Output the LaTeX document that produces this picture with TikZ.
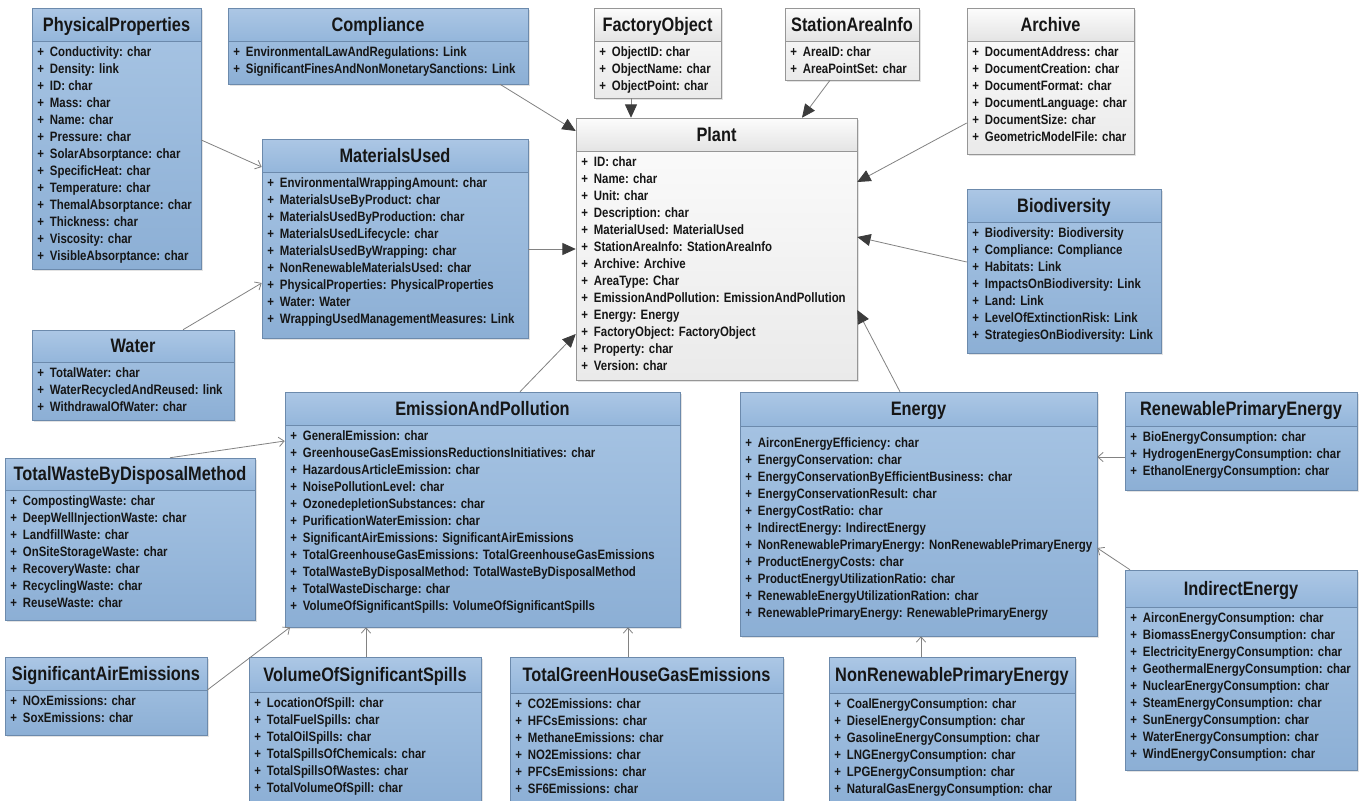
\documentclass[tikz,border=0pt]{standalone}
\usepackage{fontspec}
\setmainfont{Liberation Sans}[FakeStretch=0.84]
\usetikzlibrary{arrows.meta,fit,shadows}

% palette
\definecolor{bluebodytop}{RGB}{168,197,228}
\definecolor{bluebodybot}{RGB}{140,175,213}
\definecolor{blueheadtop}{RGB}{172,199,229}
\definecolor{blueheadbot}{RGB}{148,182,219}
\definecolor{blueline}{RGB}{108,138,172}
\definecolor{whitebodytop}{RGB}{252,252,252}
\definecolor{whitebodybot}{RGB}{234,234,234}
\definecolor{whiteheadtop}{RGB}{252,252,252}
\definecolor{whiteheadbot}{RGB}{228,228,228}
\definecolor{whiteline}{RGB}{150,150,150}
\definecolor{wirecol}{RGB}{130,130,130}
\definecolor{tipcol}{RGB}{60,60,60}
\definecolor{inkcol}{RGB}{22,22,22}

\newcommand{\attr}[1]{+\hspace{4.5pt}#1}
\newcommand{\itemlead}{11.25pt}

% \umlbox[kind]{name}{x1}{y1}{x2}{y2}{header bottom}{title}{attributes}
\newcommand{\umlbox}[9][blue]{%
  \fill[#1body] (#3,#4) rectangle (#5,#6);
  \shade[#1head] (#3,#4) rectangle (#5,#7);
  \draw[#1frame] (#3,#7) -- (#5,#7);
  \draw[#1frame] (#3,#4) rectangle (#5,#6);
  \node[fit={(#3,#4)(#5,#6)}, inner sep=0pt] (#2) {};
  \node[titletext, anchor=base] (#2-title) at ({(#3+#5)/2},{(#4+#7)/2+6.8}) {#8};
  \node[itemtext, anchor=north west] (#2-attrs) at (#3+5,#7) {\rule{0pt}{\itemlead}#9};
}

\tikzset{
  bluebody/.style={top color=bluebodytop, bottom color=bluebodybot,
    drop shadow={shadow xshift=1.5pt, shadow yshift=-1.5pt, opacity=0.22}},
  bluehead/.style={top color=blueheadtop, bottom color=blueheadbot},
  blueframe/.style={draw=blueline, line width=0.6pt},
  whitebody/.style={top color=whitebodytop, bottom color=whitebodybot,
    drop shadow={shadow xshift=1.5pt, shadow yshift=-1.5pt, opacity=0.22}},
  whitehead/.style={top color=whiteheadtop, bottom color=whiteheadbot},
  whiteframe/.style={draw=whiteline, line width=0.6pt},
  titletext/.style={font=\fontsize{14.6}{16}\selectfont\bfseries, text=inkcol, inner sep=0pt},
  itemtext/.style={font=\fontsize{10.2}{12.75}\selectfont\bfseries, text=inkcol,
    align=left, inner sep=0pt},
  openlink/.style={draw=wirecol, line width=0.6pt,
    -{Straight Barb[length=4pt,width=7pt]}},
  filledlink/.style={draw=wirecol, line width=0.6pt,
    -{Triangle[length=10pt,width=9pt,color=tipcol]}},
}

\begin{document}
\begin{tikzpicture}[x=0.75pt,y=-0.75pt]
\useasboundingbox (0,0) rectangle (1364,800);
\clip (0,0) rectangle (1364,800);
\fill[white] (0,0) rectangle (1364,800);

% ---------- classes ----------
\umlbox{phys}{32}{8}{201}{269}{41}{PhysicalProperties}{%
\attr{Conductivity: char}\\ \attr{Density: link}\\ \attr{ID: char}\\ \attr{Mass: char}\\
\attr{Name: char}\\ \attr{Pressure: char}\\ \attr{SolarAbsorptance: char}\\
\attr{SpecificHeat: char}\\ \attr{Temperature: char}\\ \attr{ThemalAbsorptance: char}\\
\attr{Thickness: char}\\ \attr{Viscosity: char}\\ \attr{VisibleAbsorptance: char}}

\umlbox{comp}{228}{8}{528}{84}{41}{Compliance}{%
\attr{EnvironmentalLawAndRegulations: Link}\\
\attr{SignificantFinesAndNonMonetarySanctions: Link}}

\umlbox[white]{factory}{594}{8}{721}{98}{41}{FactoryObject}{%
\attr{ObjectID: char}\\ \attr{ObjectName: char}\\ \attr{ObjectPoint: char}}

\umlbox[white]{station}{785}{8}{919}{80}{41}{StationAreaInfo}{%
\attr{AreaID: char}\\ \attr{AreaPointSet: char}}

\umlbox[white]{archive}{967}{8}{1134}{154}{41}{Archive}{%
\attr{DocumentAddress: char}\\ \attr{DocumentCreation: char}\\ \attr{DocumentFormat: char}\\
\attr{DocumentLanguage: char}\\ \attr{DocumentSize: char}\\ \attr{GeometricModelFile: char}}

\umlbox[white]{plant}{576}{118}{857}{380}{151}{Plant}{%
\attr{ID: char}\\ \attr{Name: char}\\ \attr{Unit: char}\\ \attr{Description: char}\\
\attr{MaterialUsed: MaterialUsed}\\ \attr{StationAreaInfo: StationAreaInfo}\\
\attr{Archive: Archive}\\ \attr{AreaType: Char}\\
\attr{EmissionAndPollution: EmissionAndPollution}\\ \attr{Energy: Energy}\\
\attr{FactoryObject: FactoryObject}\\ \attr{Property: char}\\ \attr{Version: char}}

\umlbox{mat}{262}{139}{528}{338}{172}{MaterialsUsed}{%
\attr{EnvironmentalWrappingAmount: char}\\ \attr{MaterialsUseByProduct: char}\\
\attr{MaterialsUsedByProduction: char}\\ \attr{MaterialsUsedLifecycle: char}\\
\attr{MaterialsUsedByWrapping: char}\\ \attr{NonRenewableMaterialsUsed: char}\\
\attr{PhysicalProperties: PhysicalProperties}\\ \attr{Water: Water}\\
\attr{WrappingUsedManagementMeasures: Link}}

\umlbox{bio}{967}{189}{1161}{353}{222}{Biodiversity}{%
\attr{Biodiversity: Biodiversity}\\ \attr{Compliance: Compliance}\\ \attr{Habitats: Link}\\
\attr{ImpactsOnBiodiversity: Link}\\ \attr{Land: Link}\\ \attr{LevelOfExtinctionRisk: Link}\\
\attr{StrategiesOnBiodiversity: Link}}

\umlbox{water}{32}{330}{234}{420}{362}{Water}{%
\attr{TotalWater: char}\\ \attr{WaterRecycledAndReused: link}\\ \attr{WithdrawalOfWater: char}}

\umlbox{waste}{5}{458}{255}{620}{490}{TotalWasteByDisposalMethod}{%
\attr{CompostingWaste: char}\\ \attr{DeepWellInjectionWaste: char}\\ \attr{LandfillWaste: char}\\
\attr{OnSiteStorageWaste: char}\\ \attr{RecoveryWaste: char}\\ \attr{RecyclingWaste: char}\\
\attr{ReuseWaste: char}}

\umlbox{emis}{285}{392}{680}{627}{425}{EmissionAndPollution}{%
\attr{GeneralEmission: char}\\ \attr{GreenhouseGasEmissionsReductionsInitiatives: char}\\
\attr{HazardousArticleEmission: char}\\ \attr{NoisePollutionLevel: char}\\
\attr{OzonedepletionSubstances: char}\\ \attr{PurificationWaterEmission: char}\\
\attr{SignificantAirEmissions: SignificantAirEmissions}\\
\attr{TotalGreenhouseGasEmissions: TotalGreenhouseGasEmissions}\\
\attr{TotalWasteByDisposalMethod: TotalWasteByDisposalMethod}\\
\attr{TotalWasteDischarge: char}\\
\attr{VolumeOfSignificantSpills: VolumeOfSignificantSpills}}

\begingroup
\renewcommand{\itemlead}{15.75pt}
\umlbox{energy}{740}{392}{1097}{636}{426}{Energy}{%
\attr{AirconEnergyEfficiency: char}\\ \attr{EnergyConservation: char}\\
\attr{EnergyConservationByEfficientBusiness: char}\\ \attr{EnergyConservationResult: char}\\
\attr{EnergyCostRatio: char}\\ \attr{IndirectEnergy: IndirectEnergy}\\
\attr{NonRenewablePrimaryEnergy: NonRenewablePrimaryEnergy}\\
\attr{ProductEnergyCosts: char}\\ \attr{ProductEnergyUtilizationRatio: char}\\
\attr{RenewableEnergyUtilizationRation: char}\\
\attr{RenewablePrimaryEnergy: RenewablePrimaryEnergy}}
\endgroup

\umlbox{ren}{1125}{392}{1357}{490}{426}{RenewablePrimaryEnergy}{%
\attr{BioEnergyConsumption: char}\\ \attr{HydrogenEnergyConsumption: char}\\
\attr{EthanolEnergyConsumption: char}}

\umlbox{indirect}{1125}{570}{1357}{770}{607}{IndirectEnergy}{%
\attr{AirconEnergyConsumption: char}\\ \attr{BiomassEnergyConsumption: char}\\
\attr{ElectricityEnergyConsumption: char}\\ \attr{GeothermalEnergyConsumption: char}\\
\attr{NuclearEnergyConsumption: char}\\ \attr{SteamEnergyConsumption: char}\\
\attr{SunEnergyConsumption: char}\\ \attr{WaterEnergyConsumption: char}\\
\attr{WindEnergyConsumption: char}}

\umlbox{sigair}{5}{657}{207}{735}{690}{SignificantAirEmissions}{%
\attr{NOxEmissions: char}\\ \attr{SoxEmissions: char}}

\umlbox{spills}{249}{657}{481}{806}{692}{VolumeOfSignificantSpills}{%
\attr{LocationOfSpill: char}\\ \attr{TotalFuelSpills: char}\\ \attr{TotalOilSpills: char}\\
\attr{TotalSpillsOfChemicals: char}\\ \attr{TotalSpillsOfWastes: char}\\
\attr{TotalVolumeOfSpill: char}}

\umlbox{ghg}{510}{657}{783}{806}{693}{TotalGreenHouseGasEmissions}{%
\attr{CO2Emissions: char}\\ \attr{HFCsEmissions: char}\\ \attr{MethaneEmissions: char}\\
\attr{NO2Emissions: char}\\ \attr{PFCsEmissions: char}\\ \attr{SF6Emissions: char}}

\umlbox{nonren}{829}{657}{1075}{806}{693}{NonRenewablePrimaryEnergy}{%
\attr{CoalEnergyConsumption: char}\\ \attr{DieselEnergyConsumption: char}\\
\attr{GasolineEnergyConsumption: char}\\ \attr{LNGEnergyConsumption: char}\\
\attr{LPGEnergyConsumption: char}\\ \attr{NaturalGasEnergyConsumption: char}}

% ---------- associations ----------
\draw[openlink] (phys.east |- 0,140) -- (mat.west |- 0,167);
\draw[openlink] (water.north -| 183,0) -- (mat.west |- 0,283);
\draw[filledlink] (mat.east |- 0,249) -- (plant.west |- 0,249);
\draw[filledlink] (comp.south -| 500,0) -- (plant.west |- 0,131);
\draw[filledlink] (factory.south -| 631,0) -- (plant.north -| 631,0);
\draw[filledlink] (station.south -| 830,0) -- (plant.north -| 802,0);
\draw[filledlink] (archive.west |- 0,123) -- (plant.east |- 0,182);
\draw[filledlink] (bio.west |- 0,262) -- (plant.east |- 0,237);
\draw[filledlink] (energy.north -| 900,0) -- (plant.east |- 0,310);
\draw[filledlink] (emis.north -| 520,0) -- (plant.west |- 0,334);
\draw[openlink] (waste.north -| 170,0) -- (emis.west |- 0,441);
\draw[openlink] (sigair.east |- 0,690) -- (emis.south -| 290,0);
\draw[openlink] (spills.north -| 366,0) -- (emis.south -| 366,0);
\draw[openlink] (ghg.north -| 628,0) -- (emis.south -| 628,0);
\draw[openlink] (nonren.north -| 921,0) -- (energy.south -| 921,0);
\draw[openlink] (ren.west |- 0,457) -- (energy.east |- 0,457);
\draw[openlink] (indirect.north -| 1130,0) -- (energy.east |- 0,548);
\end{tikzpicture}
\end{document}
